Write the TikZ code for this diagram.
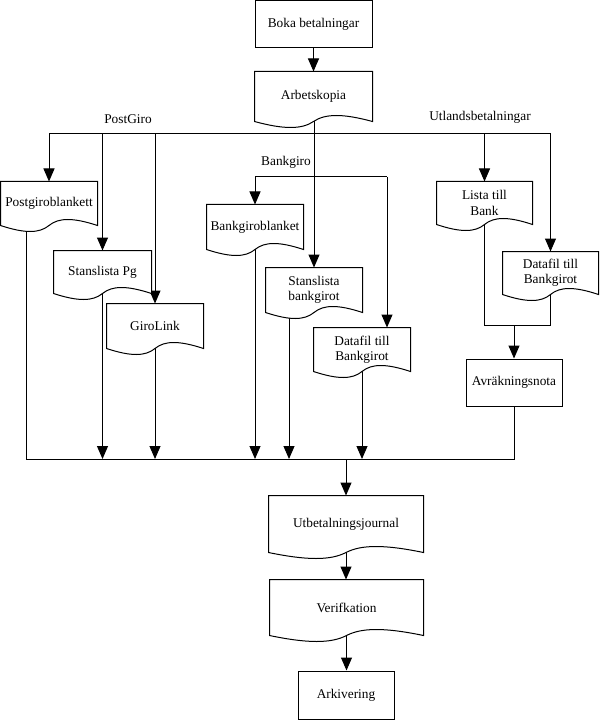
\documentclass[tikz,border=0pt]{standalone}
\usepackage{fontspec}
\setmainfont{Liberation Serif}
\usetikzlibrary{arrows.meta,calc}
\pgfdeclarelayer{bg}
\pgfdeclarelayer{mid}
\pgfsetlayers{bg,mid,main}
\begin{document}
\begin{tikzpicture}[x=0.75pt,y=-0.75pt, line width=0.75pt,
  arr/.style={-{Triangle[length=9.75pt,width=8.25pt]}},
  txt/.style={font=\fontsize{10}{11.5}\selectfont, align=center, inner sep=0pt},
  box/.style={txt, draw, fill=white},
  sz/.style 2 args={minimum width=#1*0.75pt, minimum height=#2*0.75pt}]
\useasboundingbox (0,0) rectangle (599,720);

\node[box,sz={117}{47}] (boka) at (313.5,24) {Boka betalningar};
\node[txt,sz={117}{49}] (arb) at (313.5,96.5) {Arbetskopia};
\node[txt,sz={96}{43}] (pgb) at (49,203.5) {Postgiroblankett};
\node[txt,sz={97}{42}] (spg) at (102.5,272) {Stanslista Pg};
\node[txt,sz={96}{44}] (gl) at (155,326) {GiroLink};
\node[txt,sz={96}{44}] (bgb) at (255,227) {Bankgiroblanket};
\node[txt,sz={96}{44}] (sbg) at (314,290) {Stanslista\\bankgirot};
\node[txt,sz={96}{43}] (dfm) at (362,349.5) {Datafil till\\Bankgirot};
\node[txt,sz={95}{42}] (ltb) at (484.5,203) {Lista till\\Bank};
\node[txt,sz={95}{42}] (dfr) at (550.5,273) {Datafil till\\Bankgirot};
\node[box,sz={96}{47}] (avr) at (514,382.5) {Avräkningsnota};
\node[txt,sz={154}{56}] (utb) at (346,524) {Utbetalningsjournal};
\node[txt,sz={153}{55}] (ver) at (346.5,607.5) {Verifkation};
\node[box,sz={96}{48}] (ark) at (346,695) {Arkivering};

\node[txt] (lpg) at (128,119) {PostGiro};
\node[txt] (lut) at (480,117) {Utlandsbetalningar};
\node[txt] (lbg) at (286,162) {Bankgiro};

\begin{pgfonlayer}{mid}
\begin{scope}[line width=0.75pt]
\foreach \n in {arb,pgb,spg,gl,bgb,sbg,dfm,ltb,dfr,utb,ver}
  \draw[fill=white] (\n.south west) -- (\n.north west) -- (\n.north east) -- (\n.south east)
    .. controls ($(\n.south east)!0.5!(\n.south)+(0,-8)$) and ($(\n.south)!0.2!(\n.south east)+(0,-8)$) .. (\n.south)
    .. controls ($(\n.south)!0.2!(\n.south west)+(0,8)$) and ($(\n.south west)!0.5!(\n.south)+(0,8)$) .. (\n.south west) -- cycle;
\end{scope}
\end{pgfonlayer}

\begin{pgfonlayer}{bg}
\begin{scope}[line width=0.75pt]
\draw[arr] (boka) -- (arb.north);
\draw[arr] (arb.center -| sbg.north) -- (sbg.north);
\coordinate (bt) at (0,134);
\draw (pgb.north |- bt) -- (dfr.north |- bt);
\draw[arr] (pgb.north |- bt) -- (pgb.north);
\draw[arr] (spg.north |- bt) -- (spg.north);
\draw[arr] (gl.north |- bt) -- (gl.north);
\draw[arr] (ltb.north |- bt) -- (ltb.north);
\draw[arr] (dfr.north |- bt) -- (dfr.north);
\coordinate (bgR) at (387,177);
\draw (bgb.north |- bgR) -- (bgR);
\draw[arr] (bgb.north |- bgR) -- (bgb.north);
\draw[arr] (bgR) -- (bgR |- dfm.north);
\coordinate (bb) at (0,459);
\coordinate (pgbx) at (26,0);
\coordinate (sbgx) at (289,0);
\draw (pgb.center -| pgbx) -- (pgbx |- bb) -| (avr.south);
\draw[arr] (spg.center) -- (spg.center |- bb);
\draw[arr] (gl.center) -- (gl.center |- bb);
\draw[arr] (bgb.center) -- (bgb.center |- bb);
\draw[arr] (sbg.center -| sbgx) -- (sbgx |- bb);
\draw[arr] (dfm.center) -- (dfm.center |- bb);
\coordinate (uj) at (0,325);
\draw (ltb.center) -- (ltb.center |- uj) -| (dfr.center);
\draw[arr] (avr.north |- uj) -- (avr.north);
\draw[arr] (utb.north |- bb) -- (utb.north);
\draw[arr] (utb.center) -- (utb.center |- ver.north);
\draw[arr] (ver.center) -- (ver.center |- ark.north);
\end{scope}
\end{pgfonlayer}
\end{tikzpicture}
\end{document}
